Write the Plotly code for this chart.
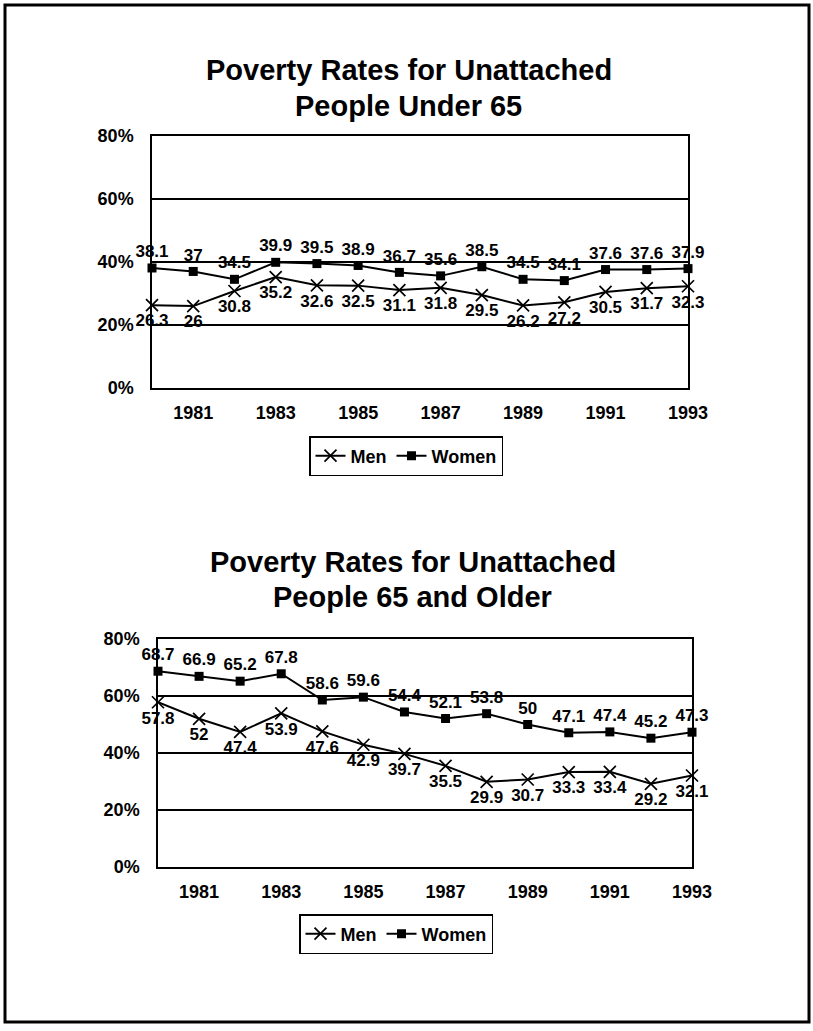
import plotly.graph_objects as go

years = list(range(1980, 1994))
tick_years = [1981, 1983, 1985, 1987, 1989, 1991, 1993]

under65_men = [26.3, 26, 30.8, 35.2, 32.6, 32.5, 31.1, 31.8, 29.5, 26.2, 27.2, 30.5, 31.7, 32.3]
under65_women = [38.1, 37, 34.5, 39.9, 39.5, 38.9, 36.7, 35.6, 38.5, 34.5, 34.1, 37.6, 37.6, 37.9]

over65_men = [57.8, 52, 47.4, 53.9, 47.6, 42.9, 39.7, 35.5, 29.9, 30.7, 33.3, 33.4, 29.2, 32.1]
over65_women = [68.7, 66.9, 65.2, 67.8, 58.6, 59.6, 54.4, 52.1, 53.8, 50, 47.1, 47.4, 45.2, 47.3]

y_ticks = [0, 20, 40, 60, 80]
y_ticktext = ["0%", "20%", "40%", "60%", "80%"]

title_top = ["Poverty Rates for Unattached", "People Under 65"]
title_bottom = ["Poverty Rates for Unattached", "People 65 and Older"]

W, H = 813, 1031
FONT = "Liberation Sans, Arial, sans-serif"

def fmt(v):
    return f"{v:g}"

fig = go.Figure()

def add_pair(men, women, xa, ya, legend):
    fig.add_trace(go.Scatter(
        x=years, y=men, name="Men", xaxis=xa, yaxis=ya, legend=legend,
        mode="lines+markers+text", text=[fmt(v) for v in men],
        textposition="bottom center",
        textfont=dict(family=FONT, size=17, color="black", weight="bold"),
        line=dict(color="black", width=2),
        marker=dict(symbol="x-thin", size=12, color="black",
                    line=dict(color="black", width=1.7)),
        cliponaxis=False,
    ))
    fig.add_trace(go.Scatter(
        x=years, y=women, name="Women", xaxis=xa, yaxis=ya, legend=legend,
        mode="lines+markers+text", text=[fmt(v) for v in women],
        textposition="top center",
        textfont=dict(family=FONT, size=17, color="black", weight="bold"),
        line=dict(color="black", width=2),
        marker=dict(symbol="square", size=9, color="black"),
        cliponaxis=False,
    ))

add_pair(under65_men, under65_women, "x", "y", "legend")
add_pair(over65_men, over65_women, "x2", "y2", "legend2")

def px_x(p):
    return p / W

def px_y(p):
    return 1 - p / H

xaxis_common = dict(
    range=[1980, 1993], tickvals=tick_years, ticktext=[str(t) for t in tick_years],
    showgrid=False, zeroline=False, showline=True, mirror=True,
    linecolor="black", linewidth=1.5, ticks="", ticklabelstandoff=8,
    automargin=False,
    tickfont=dict(family=FONT, size=18, color="black", weight="bold"),
)
yaxis_common = dict(
    range=[0, 80], tickvals=y_ticks, ticktext=y_ticktext,
    showgrid=True, gridcolor="black", gridwidth=1.5, zeroline=False,
    showline=True, mirror=True, linecolor="black", linewidth=1.5,
    ticks="", ticklabelstandoff=13, automargin=False,
    tickfont=dict(family=FONT, size=18, color="black", weight="bold"),
)

legend_common = dict(
    orientation="h", xanchor="center", yanchor="top",
    bordercolor="black", borderwidth=1.5, bgcolor="white",
    font=dict(family=FONT, size=18, color="black", weight="bold"),
    itemwidth=30, tracegroupgap=0,
)

annotations = []
for txt, yc, xc in [(title_top[0], 70, 409), (title_top[1], 106, 408),
                    (title_bottom[0], 562, 413), (title_bottom[1], 597, 412)]:
    annotations.append(dict(
        text=txt, x=px_x(xc), y=px_y(yc), xref="paper", yref="paper",
        xanchor="center", yanchor="middle", showarrow=False,
        font=dict(family=FONT, size=29, color="black", weight="bold"),
    ))

fig.update_layout(
    width=W, height=H, margin=dict(l=0, r=0, t=0, b=0, pad=0, autoexpand=False),
    paper_bgcolor="white", plot_bgcolor="white",
    xaxis=dict(domain=[px_x(152), px_x(688)], anchor="y", **xaxis_common),
    yaxis=dict(domain=[px_y(388), px_y(136)], anchor="x", **yaxis_common),
    xaxis2=dict(domain=[px_x(158), px_x(692)], anchor="y2", **xaxis_common),
    yaxis2=dict(domain=[px_y(867), px_y(639)], anchor="x2", **yaxis_common),
    legend=dict(x=px_x(406), y=px_y(436), **legend_common),
    legend2=dict(x=px_x(396), y=px_y(914), **legend_common),
    annotations=annotations,
    shapes=[dict(type="rect", xref="paper", yref="paper",
                 x0=px_x(5), x1=px_x(809), y0=px_y(1022), y1=px_y(5),
                 line=dict(color="black", width=3))],
    showlegend=True,
)

fig.write_html("out.html")
